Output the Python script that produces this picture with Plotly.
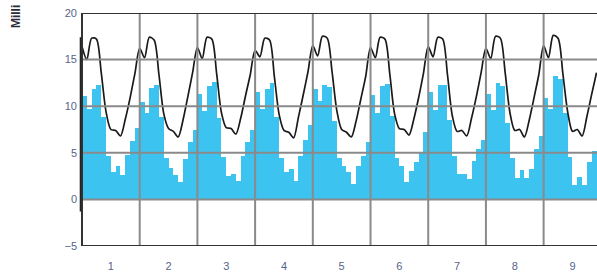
import plotly.graph_objects as go

# ---- data (monthly, 9 years) ----
year_labels = ["1", "2", "3", "4", "5", "6", "7", "8", "9"]

bars_y1 = [11.1, 9.7, 11.8, 12.3, 8.8, 4.7, 2.9, 3.6, 2.6, 4.8, 6.3, 7.7]
bars_y2 = [10.4, 9.3, 12.0, 12.3, 8.8, 4.4, 3.4, 2.6, 1.9, 4.3, 6.2, 7.4]
bars_y3 = [11.3, 9.5, 12.2, 12.6, 8.7, 4.6, 2.5, 2.7, 2.0, 4.7, 6.2, 7.4]
bars_y4 = [11.5, 9.7, 11.8, 12.5, 8.8, 4.4, 2.9, 3.3, 2.0, 4.7, 6.4, 8.0]
bars_y5 = [11.8, 10.6, 12.3, 12.1, 8.4, 4.4, 3.6, 2.9, 1.7, 3.6, 4.7, 6.2]
bars_y6 = [11.2, 9.3, 12.2, 12.4, 9.0, 4.4, 3.6, 1.9, 3.0, 4.0, 5.1, 7.2]
bars_y7 = [11.5, 9.6, 12.3, 12.3, 8.5, 4.7, 2.7, 2.7, 2.2, 4.1, 5.4, 6.4]
bars_y8 = [11.3, 9.6, 12.5, 12.2, 8.2, 4.4, 2.3, 3.2, 2.3, 3.3, 5.4, 6.8]
bars_y9 = [10.9, 9.7, 13.2, 12.9, 9.3, 4.6, 1.5, 2.4, 1.5, 4.0, 5.2, 7.2]

line_y1 = [16.4, 15.0, 17.3, 17.2, 13.6, 9.4, 7.5, 7.4, 6.8, 8.6, 10.9, 13.5]
line_y2 = [16.2, 15.2, 17.4, 17.1, 13.4, 9.2, 7.6, 7.3, 6.7, 8.5, 11.0, 13.6]
line_y3 = [16.3, 15.1, 17.4, 17.2, 13.5, 9.3, 7.7, 7.6, 7.0, 8.7, 11.1, 13.4]
line_y4 = [16.0, 15.3, 17.3, 17.1, 13.2, 9.1, 7.4, 7.2, 6.6, 8.8, 11.2, 13.7]
line_y5 = [16.5, 15.4, 17.5, 17.3, 13.7, 9.5, 7.5, 7.2, 6.7, 8.4, 10.8, 13.2]
line_y6 = [16.3, 15.2, 17.4, 17.2, 13.5, 9.2, 7.6, 7.5, 6.9, 8.6, 10.9, 13.5]
line_y7 = [16.4, 15.3, 17.4, 17.2, 13.4, 9.0, 7.3, 7.4, 6.8, 8.7, 11.0, 13.6]
line_y8 = [16.2, 15.1, 17.5, 17.3, 13.6, 9.3, 7.4, 7.5, 6.7, 8.5, 10.9, 13.4]
line_y9 = [16.5, 15.2, 17.6, 17.3, 13.5, 9.4, 7.3, 7.5, 6.8, 8.9, 11.3, 13.6]

y_ticks = [-5, 0, 5, 10, 15, 20]
y_title = "Milli"

bars = (bars_y1 + bars_y2 + bars_y3 + bars_y4 + bars_y5 + bars_y6
        + bars_y7 + bars_y8 + bars_y9)
line = (line_y1 + line_y2 + line_y3 + line_y4 + line_y5 + line_y6
        + line_y7 + line_y8 + line_y9)

months = list(range(len(bars)))
bar_x = [m + 0.5 for m in months]
year_bounds = [12 * i for i in range(1, len(year_labels))]
year_centers = [12 * i + 6 for i in range(len(year_labels))]

BAR_C = "#3cc3f0"
GRID_C = "#8a8a8a"
FRAME_C = "#333333"
TICK_C = "#55648a"
FONT = "Liberation Sans"

fig = go.Figure()
fig.add_trace(go.Bar(x=bar_x, y=bars, width=1.0, marker=dict(color=BAR_C, line=dict(width=0)),
                     showlegend=False, hoverinfo="skip"))
fig.add_trace(go.Scatter(x=months, y=line, mode="lines",
                         line=dict(color="#1a1a1a", width=1.7, shape="spline", smoothing=0.8),
                         showlegend=False, hoverinfo="skip"))

shapes = []
for v in y_ticks[1:-1]:
    shapes.append(dict(type="line", xref="paper", yref="y", x0=0, x1=1, y0=v, y1=v,
                       line=dict(color=GRID_C, width=2), layer="above"))
for b in year_bounds:
    shapes.append(dict(type="line", xref="x", yref="y", x0=b, x1=b, y0=y_ticks[0], y1=y_ticks[-1],
                       line=dict(color=GRID_C, width=2), layer="above"))
# frame
for v in (y_ticks[0], y_ticks[-1]):
    shapes.append(dict(type="line", xref="paper", yref="y", x0=0, x1=1, y0=v, y1=v,
                       line=dict(color=FRAME_C, width=2), layer="above"))
shapes.append(dict(type="line", xref="paper", yref="y", x0=0, x1=0, y0=y_ticks[0], y1=y_ticks[-1],
                   line=dict(color=FRAME_C, width=2), layer="above"))
shapes.append(dict(type="line", xref="paper", yref="y", x0=-0.003, x1=-0.003, y0=-1.3, y1=17.4,
                   line=dict(color="#222222", width=1.5), layer="above"))

fig.update_layout(
    width=597, height=274,
    margin=dict(l=82, r=0, t=13, b=28),
    paper_bgcolor="white", plot_bgcolor="white",
    bargap=0,
    hovermode=False,
    shapes=shapes,
    font=dict(family=FONT, size=11, color=TICK_C),
    xaxis=dict(range=[0, 107.1], showgrid=False, zeroline=False, showline=False,
               tickmode="array", tickvals=year_centers, ticktext=year_labels,
               ticks="", ticklabelstandoff=12, tickfont=dict(size=11, color=TICK_C)),
    yaxis=dict(range=[y_ticks[0], y_ticks[-1]], showgrid=False, zeroline=False, showline=False,
               tickmode="array", tickvals=y_ticks, ticks="", ticklabelstandoff=4,
               tickfont=dict(size=11, color=TICK_C)),
    annotations=[dict(text="<b>" + y_title + "</b>", xref="paper", yref="paper",
                      x=-0.128, y=0.925, xanchor="center", yanchor="bottom",
                      textangle=-90, showarrow=False,
                      font=dict(family=FONT, size=12, color="#2a2a3a"))],
)

fig.write_html("out.html", config={"displayModeBar": False, "staticPlot": True},
               post_script="document.body.style.margin='0';document.body.style.overflow='hidden';")
